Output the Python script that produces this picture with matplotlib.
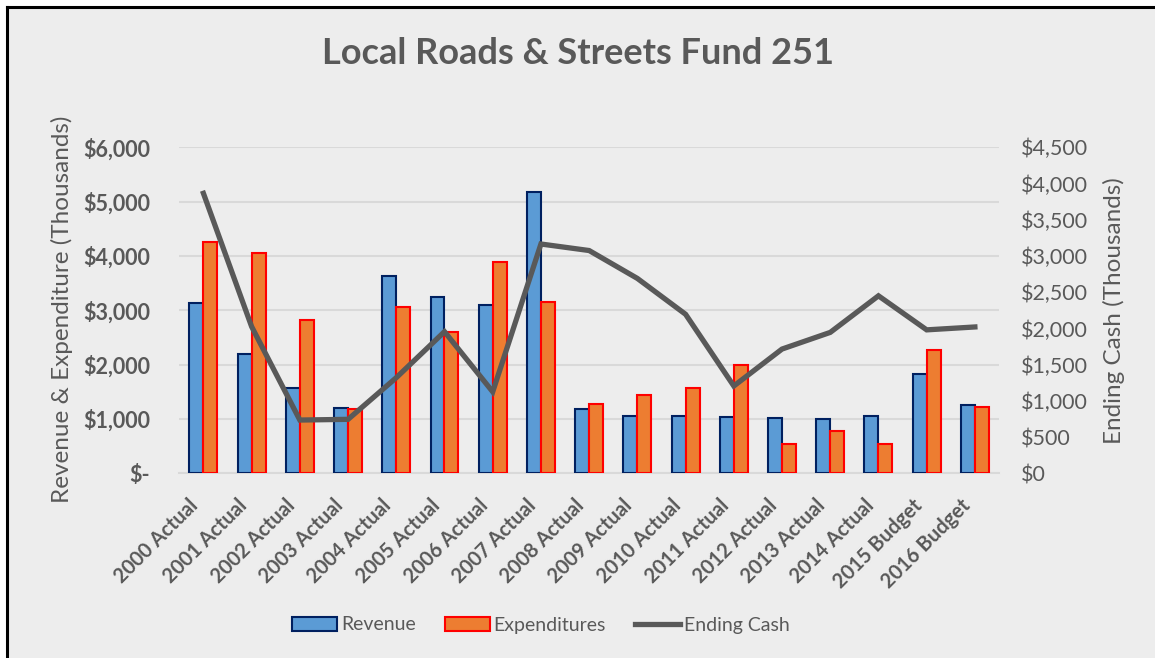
import matplotlib.pyplot as plt
import matplotlib.transforms as mtransforms
from matplotlib.ticker import FuncFormatter, MultipleLocator
from matplotlib.patches import Patch
from matplotlib.lines import Line2D
import numpy as np

plt.rcParams['font.family'] = ['Lato', 'DejaVu Sans']

categories = ["2000 Actual", "2001 Actual", "2002 Actual", "2003 Actual", "2004 Actual",
              "2005 Actual", "2006 Actual", "2007 Actual", "2008 Actual", "2009 Actual",
              "2010 Actual", "2011 Actual", "2012 Actual", "2013 Actual", "2014 Actual",
              "2015 Budget", "2016 Budget"]
revenue = [3140, 2190, 1570, 1200, 3625, 3245, 3100, 5170, 1180, 1060,
           1060, 1030, 1020, 1000, 1055, 1820, 1260]
expenditures = [4250, 4050, 2830, 1180, 3065, 2600, 3885, 3150, 1280, 1435,
                1565, 1995, 535, 775, 545, 2275, 1220]
ending_cash = [3865, 2025, 735, 745, 1320, 1955, 1125, 3165, 3075, 2690,
               2195, 1205, 1715, 1945, 2450, 1980, 2020]

bg = '#EDEDED'
txt = '#595959'
grid = '#D9D9D9'

fig = plt.figure(figsize=(11.55, 6.58), dpi=100)
fig.patch.set_facecolor(bg)
# white margin above and left of the black border (the picture is cropped there)
bx, by = 7 / 1155, 1 - 7 / 658
fig.add_artist(plt.Rectangle((0, 0), bx, 1, transform=fig.transFigure,
                             facecolor='white', edgecolor='none', zorder=-5))
fig.add_artist(plt.Rectangle((0, by), 1, 1 - by, transform=fig.transFigure,
                             facecolor='white', edgecolor='none', zorder=-5))
fig.add_artist(Line2D([bx, bx], [0, by], color='black', lw=2.2, transform=fig.transFigure))
fig.add_artist(Line2D([bx, 1], [by, by], color='black', lw=2.2, transform=fig.transFigure))

ax = fig.add_axes([179.3 / 1155, 1 - 473.3 / 658, (999 - 179.3) / 1155, (473.3 - 147.3) / 658])
ax.set_facecolor('none')
ax2 = ax.twinx()

x = np.arange(len(categories))
w = 0.29
ax.bar(x - w / 2, revenue, w, color='#5B9BD5', edgecolor='#002060', linewidth=1.5, zorder=3)
ax.bar(x + w / 2, expenditures, w, color='#ED7D31', edgecolor='#FF0000', linewidth=1.5, zorder=3)
ax2.plot(x, ending_cash, color=txt, lw=3.8, solid_joinstyle='miter', zorder=4)

ax.set_xlim(-0.5, len(categories) - 0.5)
ax.set_ylim(0, 6000)
ax2.set_ylim(0, 4500)
ax.yaxis.set_major_locator(MultipleLocator(1000))
ax2.yaxis.set_major_locator(MultipleLocator(500))
ax.yaxis.grid(True, color=grid, lw=1.5, zorder=0)
ax.set_axisbelow(True)

ax.yaxis.set_major_formatter(FuncFormatter(lambda v, p: '$-' if v == 0 else f'${v:,.0f}'))
ax2.yaxis.set_major_formatter(FuncFormatter(lambda v, p: f'${v:,.0f}'))

for a in (ax, ax2):
    for s in a.spines.values():
        s.set_visible(False)
ax.spines['bottom'].set_visible(True)
ax.spines['bottom'].set_color(grid)
ax.spines['bottom'].set_linewidth(1.5)

ax.tick_params(axis='y', length=0, pad=21, labelsize=15.5, labelcolor=txt)
for lab in ax.get_yticklabels():
    lab.set_fontweight('bold')
ax2.tick_params(axis='y', length=0, pad=16, labelsize=15.5, labelcolor=txt)

ax.set_xticks(x)
ax.set_xticklabels(categories, rotation=45, ha='right', rotation_mode='anchor',
                   fontsize=14.5, fontweight='bold', color=txt)
ax.tick_params(axis='x', length=0, pad=6)
shift = mtransforms.ScaledTranslation(-15 / 100, -14 / 100, fig.dpi_scale_trans)
for lab in ax.get_xticklabels():
    lab.set_transform(lab.get_transform() + shift)

ax.set_ylabel('Revenue & Expenditure (Thousands)', fontsize=17.5, color=txt)
ax2.set_ylabel('Ending Cash (Thousands)', fontsize=17.5, color=txt)
ax.yaxis.set_label_coords((73 - 179.3) / 819.7, 0.504)
ax2.yaxis.set_label_coords((1103 - 179.3) / 819.7, 0.5)

fig.text(0.5, 1 - 53 / 658, 'Local Roads & Streets Fund 251', ha='center', va='center',
         fontsize=26, fontweight='bold', color=txt)

handles = [Patch(facecolor='#5B9BD5', edgecolor='#002060', lw=1.5, label='Revenue'),
           Patch(facecolor='#ED7D31', edgecolor='#FF0000', lw=1.5, label='Expenditures'),
           Line2D([0], [0], color=txt, lw=3.8, label='Ending Cash')]
fig.legend(handles=handles, loc='center', bbox_to_anchor=(541 / 1155, 1 - 625 / 658), ncol=3,
           frameon=False, fontsize=14, labelcolor=txt, handlelength=2.3, handleheight=0.75,
           handletextpad=0.2, columnspacing=1.5)

fig.savefig('out.png', dpi=100, facecolor=fig.get_facecolor())
